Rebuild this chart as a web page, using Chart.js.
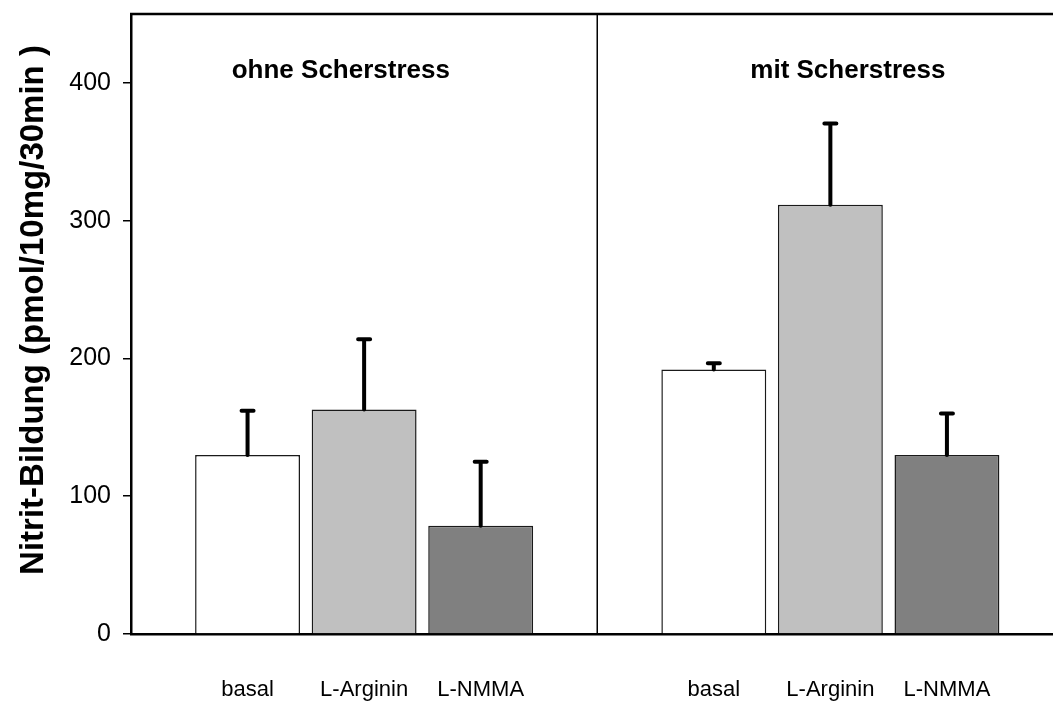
<html>

<head>
    <script type="text/javascript" src="https://cdn.jsdelivr.net/npm/chart.js@4.4.1/dist/chart.umd.min.js"></script>
    <style>
        body { margin: 0; background: #fff; overflow: hidden; }
        #divNitrit { width: 1053px; height: 704px; }
    </style>
</head>

<body>
    <div id="divNitrit">
        <canvas id="nitritGraph"></canvas>
    </div>
</body>

</html>

<script type="text/javascript">
    // dados
    const groups = ['ohne Scherstress', 'mit Scherstress'];
    const slots = [1, 2, 3, 5, 6, 7];          // posicao de cada barra no eixo x (4 = divisao)
    const barLabels = ['basal', 'L-Arginin', 'L-NMMA', 'basal', 'L-Arginin', 'L-NMMA'];
    const nitrit = [130, 163, 78.5, 192, 311.5, 130];
    const errorTop = [162, 214, 125, 196.5, 370.5, 160];
    const barColors = ['#ffffff', '#c0c0c0', '#808080', '#ffffff', '#c0c0c0', '#808080'];
    const yTicks = [0, 100, 200, 300, 400];
    const yTitle = 'Nitrit-Bildung (pmol/10mg/30min )';

    const extras = {
        id: 'extras',
        afterDatasetsDraw(chart) {
            const ctx = chart.ctx;
            const xs = chart.scales.x, ys = chart.scales.y;
            ctx.save();
            ctx.strokeStyle = '#000';
            ctx.lineWidth = 4;
            ctx.lineCap = 'round';
            for (let i = 0; i < slots.length; i++) {
                const x = xs.getPixelForValue(slots[i]);
                const y0 = ys.getPixelForValue(nitrit[i]);
                const y1 = ys.getPixelForValue(errorTop[i]);
                ctx.beginPath();
                ctx.moveTo(x, y0);
                ctx.lineTo(x, y1);
                ctx.moveTo(x - 6, y1);
                ctx.lineTo(x + 6, y1);
                ctx.stroke();
            }
            ctx.restore();
        },
        afterDraw(chart) {
            const ctx = chart.ctx;
            const area = chart.chartArea;
            const xs = chart.scales.x;
            const opts = chart.options.plugins.extras;
            ctx.save();
            // moldura de cima e divisao
            ctx.strokeStyle = '#000';
            ctx.lineWidth = 2.5;
            ctx.beginPath();
            ctx.moveTo(area.left - 1, area.top);
            ctx.lineTo(area.right, area.top);
            ctx.stroke();
            ctx.lineWidth = 1.5;
            ctx.beginPath();
            ctx.moveTo(xs.getPixelForValue(opts.divider), area.top);
            ctx.lineTo(xs.getPixelForValue(opts.divider), area.bottom);
            ctx.stroke();
            // titulos dos grupos
            ctx.fillStyle = '#000';
            ctx.font = 'bold 26px "Liberation Sans", Arial, sans-serif';
            ctx.textAlign = 'center';
            ctx.textBaseline = 'middle';
            groups.forEach((g, i) => {
                ctx.fillText(g, xs.getPixelForValue(opts.titleAt[i]), area.top + 57);
            });
            // titulo do eixo y
            ctx.translate(34, 310);
            ctx.rotate(-Math.PI / 2);
            ctx.font = 'bold 33px "Liberation Sans", Arial, sans-serif';
            ctx.fillText(yTitle, 0, 0);
            ctx.restore();
        }
    };

    var ctx = document.getElementById('nitritGraph').getContext('2d');
    var nitritGraph = new Chart(ctx, {
        type: 'bar',
        data: {
            datasets: [{
                data: slots.map((s, i) => ({ x: s, y: nitrit[i] })),
                backgroundColor: barColors,
                borderColor: '#1a1a1a',
                borderWidth: 1.5,
                barPercentage: 0.9,
                categoryPercentage: 1
            }]
        },
        options: {
            responsive: true,
            maintainAspectRatio: false,
            animation: false,
            layout: { padding: { top: 14, right: 0, bottom: 0, left: 0 } },
            plugins: {
                legend: { display: false },
                tooltip: { enabled: false },
                extras: { divider: 4, titleAt: [1.8, 6.15] }
            },
            scales: {
                x: {
                    type: 'linear',
                    offset: false,
                    min: 0,
                    max: 7.91,
                    afterBuildTicks: s => { s.ticks = slots.map(v => ({ value: v })); },
                    afterFit: s => { s.height = 70; s.paddingLeft = 0; s.paddingRight = 0; },
                    border: { color: '#000', width: 2.5 },
                    grid: { display: false },
                    ticks: {
                        autoSkip: false,
                        maxRotation: 0,
                        padding: 35,
                        color: '#000',
                        font: { family: '"Liberation Sans", Arial, sans-serif', size: 22 },
                        callback: (v, i) => barLabels[i]
                    }
                },
                y: {
                    min: 0,
                    max: 450,
                    afterBuildTicks: s => { s.ticks = yTicks.map(v => ({ value: v })); },
                    afterFit: s => { s.width = 131; s.paddingTop = 0; s.paddingBottom = 0; },
                    border: { color: '#000', width: 2.5 },
                    grid: { drawOnChartArea: false, color: '#000', lineWidth: 1.5, tickLength: 8 },
                    ticks: {
                        padding: 12,
                        color: '#000',
                        font: { family: '"Liberation Sans", Arial, sans-serif', size: 25 }
                    }
                }
            }
        },
        plugins: [extras]
    });
</script>
